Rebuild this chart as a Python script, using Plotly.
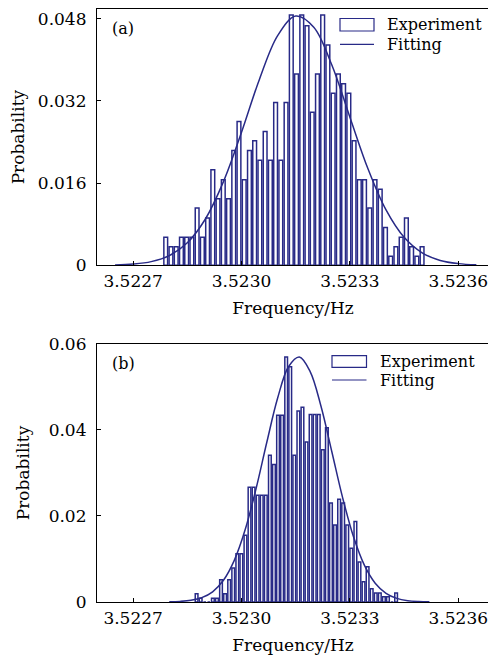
import plotly.graph_objects as go

# ---------------- data ----------------
# panel (a): histogram bins (first bin left edge, bin width) and probabilities
bin_start_a = 3.522783
bin_width_a = 0.00001448
prob_a = [0.00544, 0.00363, 0.00363, 0.00544, 0.00544, 0.00544, 0.01114, 0.00544, 0.00920, 0.01859,
          0.01296, 0.01665, 0.01296, 0.02235, 0.02798, 0.01665, 0.02235, 0.02423, 0.02047, 0.02604,
          0.02047, 0.03168, 0.02047, 0.03168, 0.04871, 0.03725, 0.04871, 0.04664, 0.02980, 0.03725,
          0.04871, 0.04288, 0.03349, 0.03725, 0.03537, 0.03349, 0.02423, 0.01665, 0.01665, 0.01114,
          0.01665, 0.01483, 0.00738, 0.00175, 0.00363, 0.00544, 0.00920, 0.00363, 0.00175, 0.00363]

# panel (a): fitted curve
fit_x_a = [3.52265, 3.52270, 3.52275, 3.52280, 3.52285, 3.52290, 3.52295, 3.52300, 3.52305, 3.52310,
           3.52315, 3.52320, 3.52325, 3.52330, 3.52335, 3.52340, 3.52345, 3.52350, 3.52355, 3.52360,
           3.52365]
fit_y_a = [0.000069, 0.000236, 0.000711, 0.001882, 0.004391, 0.009015, 0.01629, 0.02591, 0.03629, 0.04473,
           0.04854, 0.04636, 0.03898, 0.02884, 0.01879, 0.01077, 0.005438, 0.002417, 0.000945, 0.000326,
           0.000099]

# panel (b): histogram bins and probabilities
bin_start_b = 3.52287
bin_width_b = 0.00001127
prob_b = [0.0019, 0.0009, 0.0, 0.0, 0.0009, 0.0009, 0.0052, 0.0019, 0.0052, 0.0079,
          0.0112, 0.0112, 0.0155, 0.0267, 0.0267, 0.0248, 0.0248, 0.0248, 0.0341, 0.0320,
          0.0434, 0.0434, 0.0570, 0.0547, 0.0341, 0.0444, 0.0453, 0.0372, 0.0436, 0.0436,
          0.0436, 0.0354, 0.0405, 0.0230, 0.0179, 0.0239, 0.0230, 0.0179, 0.0125, 0.0187,
          0.0093, 0.0047, 0.0082, 0.0031, 0.0021, 0.0021, 0.0012, 0.0012, 0.0, 0.0021]

# panel (b): fitted curve
fit_x_b = [3.52280, 3.52283, 3.52286, 3.52289, 3.52292, 3.52295, 3.52298, 3.52301, 3.52304, 3.52307,
           3.52310, 3.52313, 3.52316, 3.52319, 3.52322, 3.52325, 3.52328, 3.52331, 3.52334, 3.52337,
           3.52340, 3.52343, 3.52346, 3.52349, 3.52352]
fit_y_b = [0.000042, 0.000134, 0.000388, 0.001009, 0.002375, 0.005044, 0.009680, 0.01678, 0.02627, 0.03714,
           0.04742, 0.05470, 0.05697, 0.05359, 0.04553, 0.03494, 0.02421, 0.01516, 0.008567, 0.004375,
           0.002017, 0.000840, 0.000316, 0.000107, 0.000033]

x_tickvals = [3.5227, 3.5230, 3.5233, 3.5236]
x_ticktext = ["3.5227", "3.5230", "3.5233", "3.5236"]
y_tickvals_a = [0, 0.016, 0.032, 0.048]
y_ticktext_a = ["0", "0.016", "0.032", "0.048"]
y_tickvals_b = [0, 0.02, 0.04, 0.06]
y_ticktext_b = ["0", "0.02", "0.04", "0.06"]

series_names = ["Experiment", "Fitting"]
panel_labels = ["(a)", "(b)"]

# ---------------- styling ----------------
NAVY = "rgb(40,42,135)"
FONT = "DejaVu Serif"
FS = 17          # tick labels, axis titles
FS_LEG = 16      # legend and panel labels
OFF = 8          # page body margin of the browser
W, H = 496 - OFF, 655 - OFF
ML, MR, MT, MB = 89, 7, 1, 53

def px_x(px):
    return (px - OFF - ML) / (W - ML - MR)

def px_y(py):
    return (H - MB - (py - OFF)) / (H - MT - MB)

centers_a = [bin_start_a + bin_width_a * (i + 0.5) for i in range(len(prob_a))]
centers_b = [bin_start_b + bin_width_b * (i + 0.5) for i in range(len(prob_b))]

fig = go.Figure()
fig.add_trace(go.Bar(x=centers_a, y=prob_a, width=bin_width_a * 0.72,
                     marker=dict(color="white", line=dict(color=NAVY, width=1.5)),
                     name=series_names[0], showlegend=False, xaxis="x", yaxis="y"))
fig.add_trace(go.Scatter(x=fit_x_a, y=fit_y_a, mode="lines", line=dict(color=NAVY, width=1.5, shape="spline"),
                         name=series_names[1], showlegend=False, xaxis="x", yaxis="y"))
fig.add_trace(go.Bar(x=centers_b, y=prob_b, width=bin_width_b * 0.66,
                     marker=dict(color="white", line=dict(color=NAVY, width=1.5)),
                     name=series_names[0], showlegend=False, xaxis="x2", yaxis="y2"))
fig.add_trace(go.Scatter(x=fit_x_b, y=fit_y_b, mode="lines", line=dict(color=NAVY, width=1.5, shape="spline"),
                         name=series_names[1], showlegend=False, xaxis="x2", yaxis="y2"))

common_x = dict(range=[3.5226, 3.523685], tickvals=x_tickvals, ticktext=x_ticktext,
                ticks="inside", ticklen=4, tickcolor="black", tickwidth=1,
                showline=True, linecolor="black", linewidth=1.2, mirror=True, automargin=False,
                showgrid=False, zeroline=False, tickfont=dict(family=FONT, size=FS, color="black"),
                title=dict(text="Frequency/Hz", font=dict(family=FONT, size=FS, color="black"), standoff=12))
common_y = dict(ticks="inside", ticklen=4, tickcolor="black", tickwidth=1,
                showline=True, linecolor="black", linewidth=1.2, mirror=True, automargin=False,
                showgrid=False, zeroline=False, tickfont=dict(family=FONT, size=FS, color="black"),
                ticklabelstandoff=6,
                title=dict(text="Probability", font=dict(family=FONT, size=FS, color="black"), standoff=14))

fig.update_layout(
    width=W, height=H,
    margin=dict(l=ML, r=MR, t=MT, b=MB, autoexpand=False),
    paper_bgcolor="white", plot_bgcolor="white",
    barmode="overlay", showlegend=False,
    xaxis=dict(domain=[0, 1], anchor="y", **common_x),
    yaxis=dict(domain=[0.5678, 1.0], anchor="x", range=[0, 0.0499],
               tickvals=y_tickvals_a, ticktext=y_ticktext_a, **common_y),
    xaxis2=dict(domain=[0, 1], anchor="y2", **common_x),
    yaxis2=dict(domain=[0.0, 0.4351], anchor="x2", range=[0, 0.06],
                tickvals=y_tickvals_b, ticktext=y_ticktext_b, **common_y),
)

# manual legends and panel labels (positions in reference pixels)
shapes = []
annotations = []
legend_pos = [  # (rect x0, x1, rect y0, y1, line y, text x)
    (340, 374, 18.5, 31, 44.3, 385),
    (332, 366.5, 355.7, 367.3, 380, 378),
]
for (x0, x1, y0, y1, ly, tx) in legend_pos:
    shapes.append(dict(type="rect", xref="paper", yref="paper", x0=px_x(x0), x1=px_x(x1),
                       y0=px_y(y1), y1=px_y(y0), line=dict(color=NAVY, width=1.2), fillcolor="white"))
    shapes.append(dict(type="line", xref="paper", yref="paper", x0=px_x(x0), x1=px_x(x1),
                       y0=px_y(ly), y1=px_y(ly), line=dict(color=NAVY, width=1.2)))
    annotations.append(dict(text=series_names[0], xref="paper", yref="paper", x=px_x(tx), y=px_y((y0 + y1) / 2),
                            xanchor="left", yanchor="middle", showarrow=False,
                            font=dict(family=FONT, size=FS_LEG, color="black")))
    annotations.append(dict(text=series_names[1], xref="paper", yref="paper", x=px_x(tx), y=px_y(ly),
                            xanchor="left", yanchor="middle", showarrow=False,
                            font=dict(family=FONT, size=FS_LEG, color="black")))

for lab, cy in zip(panel_labels, [29, 363.5]):
    annotations.append(dict(text=lab, xref="paper", yref="paper", x=px_x(110), y=px_y(cy),
                            xanchor="left", yanchor="middle", showarrow=False,
                            font=dict(family=FONT, size=FS_LEG, color="black")))

fig.update_layout(shapes=shapes, annotations=annotations)

fig.write_html("out.html")
